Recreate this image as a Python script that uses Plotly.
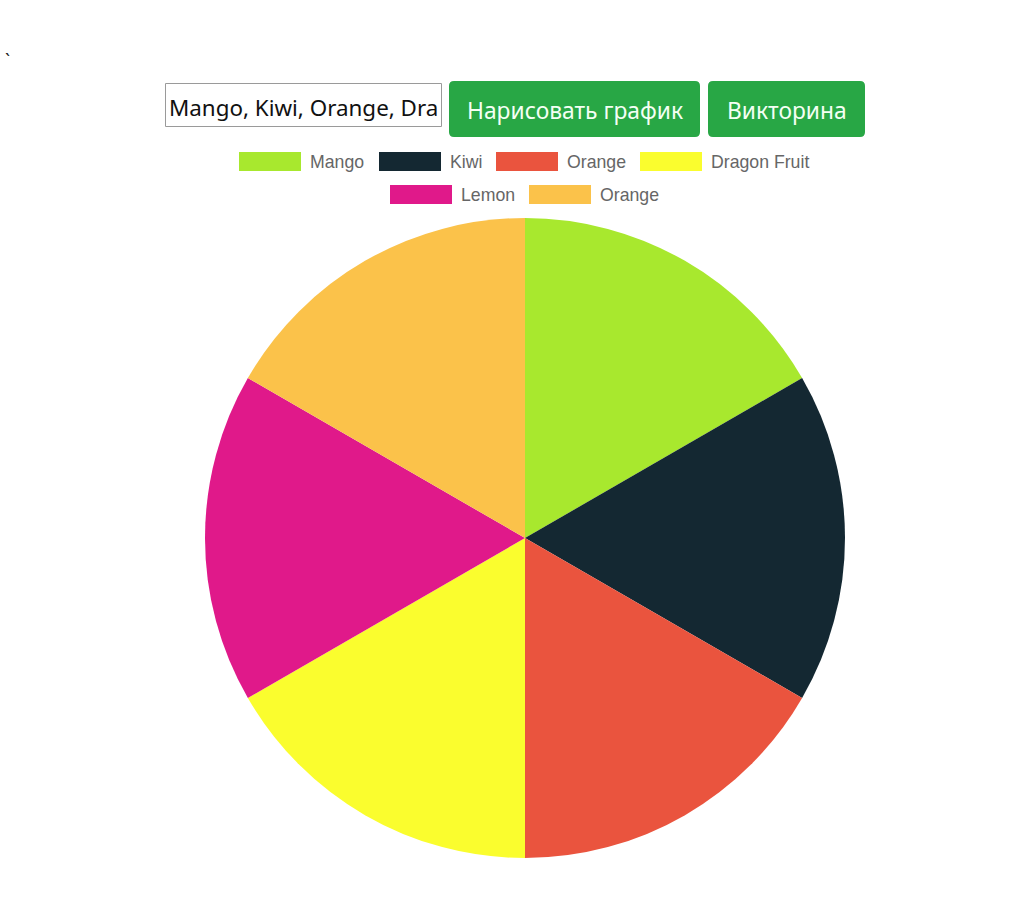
import plotly.graph_objects as go

# ---- data ----
fruits = ["Mango", "Kiwi", "Orange", "Dragon Fruit", "Lemon", "Orange"]
values = [1, 1, 1, 1, 1, 1]
colors = ["#A8E82E", "#142832", "#EA543E", "#FAFD2E", "#E0198A", "#FBC24A"]
input_text = "Mango, Kiwi, Orange, Dra"
button_labels = ["Нарисовать график", "Викторина"]

W, H = 1034, 910


def px(x):
    return x / W


def py(y):
    return 1 - y / H


def rounded_rect(x0, y0, x1, y1, r):
    X0, X1 = px(x0), px(x1)
    Y0, Y1 = py(y0), py(y1)
    rx, ry = r / W, r / H
    return (f"M {X0+rx},{Y0} L {X1-rx},{Y0} Q {X1},{Y0} {X1},{Y0-ry} "
            f"L {X1},{Y1+ry} Q {X1},{Y1} {X1-rx},{Y1} "
            f"L {X0+rx},{Y1} Q {X0},{Y1} {X0},{Y1+ry} "
            f"L {X0},{Y0-ry} Q {X0},{Y0} {X0+rx},{Y0} Z")


fig = go.Figure()
fig.add_trace(go.Pie(
    labels=[f"{i}:{n}" for i, n in enumerate(fruits)],
    values=values,
    customdata=fruits,
    hovertemplate="%{customdata}: %{value}<extra></extra>",
    marker=dict(colors=colors, line=dict(width=0)),
    sort=False,
    direction="clockwise",
    rotation=0,
    textinfo="none",
    showlegend=False,
    domain=dict(x=[px(205), px(845)], y=[py(858), py(218)]),
))

shapes = []
annotations = []

# backtick at top-left
annotations.append(dict(x=px(3), y=py(60), xref="paper", yref="paper", text="`",
                        showarrow=False, xanchor="left", yanchor="middle",
                        font=dict(family="Noto Sans", size=18, color="#222")))

# input box
shapes.append(dict(type="rect", xref="paper", yref="paper",
                   x0=px(165.5), x1=px(441.5), y0=py(83.5), y1=py(126.5),
                   line=dict(color="#9a9a9a", width=1), fillcolor="white"))
annotations.append(dict(x=px(167), y=py(107.5), xref="paper", yref="paper", text=input_text,
                        showarrow=False, xanchor="left", yanchor="middle",
                        font=dict(family="Noto Sans", size=22.4, color="#111")))

# buttons
btns = [(449, 700), (708, 865)]
for (bx0, bx1), lab in zip(btns, button_labels):
    shapes.append(dict(type="path", xref="paper", yref="paper",
                       path=rounded_rect(bx0, 81, bx1, 137, 5),
                       fillcolor="#28A745", line=dict(width=0)))
    annotations.append(dict(x=px((bx0 + bx1) / 2), y=py(110.5), xref="paper", yref="paper",
                            text=lab, showarrow=False, xanchor="center", yanchor="middle",
                            font=dict(family="Noto Sans", size=22.8, color="#F4FFF4")))

# manual legend (Chart.js style)
legend_pos = [(239, 152), (379, 152), (496, 152), (640, 152), (390, 185), (529, 185)]
for (lx, ly), name, col in zip(legend_pos, fruits, colors):
    shapes.append(dict(type="rect", xref="paper", yref="paper",
                       x0=px(lx), x1=px(lx + 62), y0=py(ly), y1=py(ly + 19),
                       fillcolor=col, line=dict(width=0)))
    annotations.append(dict(x=px(lx + 69), y=py(ly + 9.5), xref="paper", yref="paper",
                            text=name, showarrow=False, xanchor="left", yanchor="middle",
                            font=dict(family="Liberation Sans", size=17.7, color="#666")))

fig.update_layout(
    width=W, height=H,
    margin=dict(l=0, r=0, t=0, b=0),
    paper_bgcolor="white",
    plot_bgcolor="white",
    shapes=shapes,
    annotations=annotations,
)

fig.write_html("out.html")
